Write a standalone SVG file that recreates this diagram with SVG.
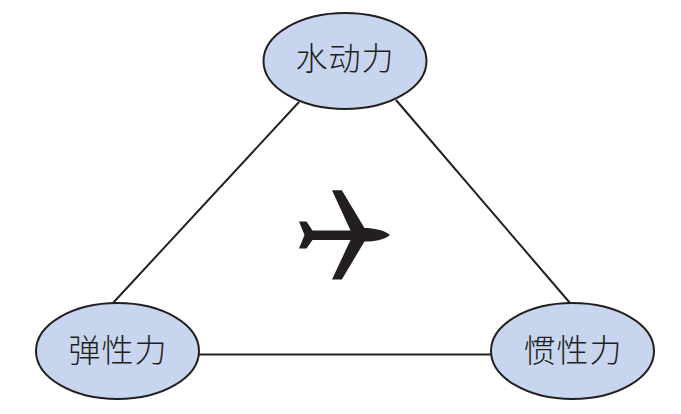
<svg xmlns="http://www.w3.org/2000/svg" width="681" height="414" viewBox="0 0 681 414">
<style>
.n{fill:#c7d6ee;stroke:#231f20;stroke-width:2}
.c{stroke:#231f20;stroke-width:2;fill:none}
.t{font-family:"Noto Sans CJK SC","Noto Sans CJK JP",sans-serif;font-weight:300;font-size:32px;fill:#231f20;text-anchor:middle;letter-spacing:1px}
</style>
<rect width="681" height="414" fill="#fff"/>
<g id="connectors">
<line class="c" x1="299" y1="102" x2="113" y2="303"/>
<line class="c" x1="396" y1="100" x2="570" y2="303"/>
<line class="c" x1="199" y1="354.500" x2="491" y2="354.500"/>
</g>
<g id="node-top"><ellipse class="n" cx="345" cy="61" rx="81.500" ry="48"/><text class="t" x="345" y="70">水动力</text></g>
<g id="node-left"><ellipse class="n" cx="117.500" cy="351" rx="81.500" ry="48"/><text class="t" x="118" y="362">弹性力</text></g>
<g id="node-right"><ellipse class="n" cx="572.500" cy="351" rx="81.500" ry="48"/><text class="t" x="573" y="362">惯性力</text></g>
<g id="plane"><path fill="#231f20" d="M332 190.300L341.800 190.300L364.500 228C374 228 384 230 390 235C384 240 374 241.500 364.500 241.500L341.800 279.500L332 279.500L350.500 240L312.500 240L306.500 248.500L299 248.500L304.500 235L299 221.500L306.500 221.500L312.500 230.500L350.500 230.500Z"/></g>
</svg>
